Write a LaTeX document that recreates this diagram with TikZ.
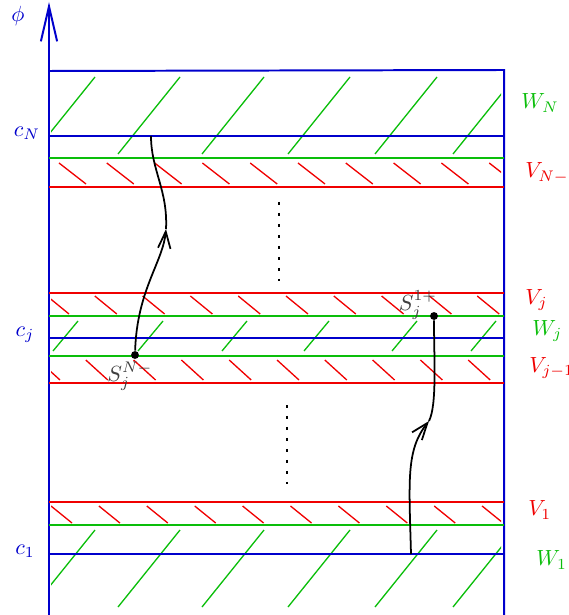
\documentclass[tikz,border=0pt]{standalone}
\usepackage{amsmath}
\usetikzlibrary{arrows.meta}
\definecolor{axisblue}{RGB}{0, 0, 204}
\definecolor{layergreen}{RGB}{10, 190, 10}
\definecolor{layerred}{RGB}{240, 0, 0}
\begin{document}
\begin{tikzpicture}[
    x=0.016cm, y=-0.016cm,
    level/.style={line width=0.9pt},
    hatch/.style={line width=0.6pt},
    lbl/.style={anchor=west, inner sep=0pt},
    flow/.style={-{Straight Barb[length=2.7mm, width=2mm]}, line width=0.8pt},
    dot/.style={circle, fill=black, inner sep=0pt, minimum size=3.6pt},
    vdots/.style={line width=1.2pt, dash pattern=on 1.2pt off 3.8pt}
]
    \useasboundingbox (0,0) rectangle (568,615);

    % frame and axis
    \draw[axisblue, line width=0.9pt, -{Straight Barb[length=5.6mm, width=2.6mm]}] (49,615) -- (49,2);
    \draw[axisblue, level] (49,71) -- (504,70) -- (504,615);
    \node[axisblue] (phi) at (18,16) {$\phi$};

    % hatching (clipped to the strip)
    \begin{scope}
        \clip (51,60) rectangle (501,615);
        \foreach \x in {33,118,202,288,375,453} {
            \draw[layergreen, hatch] (\x,154) -- ++(62,-77);
            \draw[layergreen, hatch] (\x,607) -- ++(62,-77);
        }
        \foreach \x in {53,138,222,304,392,471}
            \draw[layergreen, hatch] (\x,351) -- ++(25,-30);
        \foreach \k in {0,...,9} {
            \draw[layerred, hatch] (59+47.8*\k,163) -- ++(27,21);
            \draw[layerred, hatch] (47+47.8*\k,296) -- ++(22,18);
            \draw[layerred, hatch] (38+47.8*\k,360) -- ++(22,20);
            \draw[layerred, hatch] (51+47.9*\k,506) -- ++(21,17);
        }
    \end{scope}

    % levels
    \draw[axisblue, level] (49,136) -- (504,136);
    \draw[axisblue, level] (49,338) -- (504,338);
    \draw[axisblue, level] (49,554) -- (504,554);
    \draw[layergreen, level] (49,158) -- (504,158);
    \draw[layergreen, level] (49,316) -- (504,316);
    \draw[layergreen, level] (49,356) -- (504,356);
    \draw[layergreen, level] (49,525) -- (504,525);
    \draw[layerred, level] (49,187) -- (504,187);
    \draw[layerred, level] (49,293) -- (504,293);
    \draw[layerred, level] (49,383) -- (504,383);
    \draw[layerred, level] (49,502) -- (504,502);

    % labels
    \node[axisblue] (cN) at (27,133) {$c_N$};
    \node[axisblue] (cj) at (25,335) {$c_j$};
    \node[axisblue] (c1) at (25,551) {$c_1$};
    \node[lbl, layergreen] (wN) at (521,103) {$W_N$};
    \node[lbl, layerred] (vNm) at (525,173) {$V_{N-1}$};
    \node[lbl, layerred] (vj) at (525,300) {$V_j$};
    \node[lbl, layergreen] (wj) at (532,331) {$W_j$};
    \node[lbl, layerred] (vjm) at (529,368) {$V_{j-1}$};
    \node[lbl, layerred] (v1) at (528,510) {$V_1$};
    \node[lbl, layergreen] (w1) at (536,560) {$W_1$};

    % dots between the layers
    \draw[vdots] (279,202) -- (279,284);
    \draw[vdots] (287,405) -- (287,489);

    % paths
    \node[dot] (sN) at (135,355) {};
    \node[dot] (s1) at (434,316) {};
    \node[black!75] (sNlbl) at (130,376) {$S_j^{N-}$};
    \node[black!75] (s1lbl) at (418,305) {$S_j^{1+}$};
    \coordinate (topN) at (151,136);
    \coordinate (bot1) at (411,554);
    \coordinate (midN) at (166,229);
    \coordinate (mid1) at (429,421);

    \draw[flow] (sN) .. controls (137,290) and (163,262) .. (midN);
    \draw[line width=0.8pt] (midN) .. controls (168,190) and (151,170) .. (topN);
    \draw[flow] (bot1) .. controls (409,480) and (406,450) .. (mid1);
    \draw[line width=0.8pt] (mid1) .. controls (437,405) and (434,360) .. (s1);
\end{tikzpicture}
\end{document}
